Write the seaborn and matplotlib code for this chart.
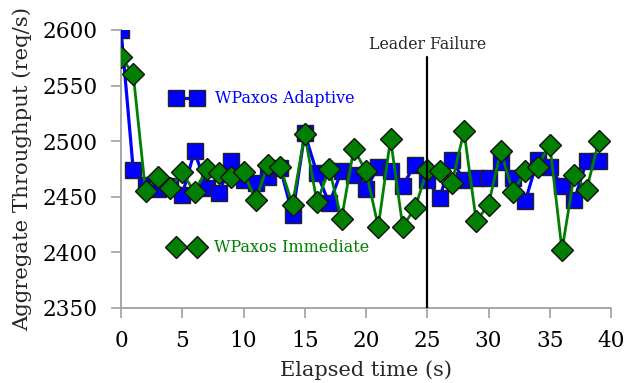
import matplotlib
matplotlib.use("Agg")
import matplotlib.pyplot as plt
import seaborn as sns
import pandas as pd
from matplotlib.lines import Line2D

time_s = list(range(40))
adaptive = [2600, 2474, 2461, 2457, 2460, 2452, 2491, 2458, 2453, 2482,
            2465, 2462, 2468, 2476, 2434, 2507, 2471, 2444, 2473, 2470,
            2457, 2477, 2473, 2460, 2479, 2465, 2449, 2483, 2465, 2467,
            2467, 2481, 2467, 2446, 2483, 2477, 2460, 2447, 2482, 2482]
immediate = [2576, 2560, 2455, 2468, 2458, 2472, 2454, 2475, 2471, 2468,
             2472, 2447, 2479, 2477, 2443, 2506, 2445, 2475, 2430, 2493,
             2473, 2423, 2502, 2423, 2440, 2474, 2473, 2462, 2509, 2428,
             2443, 2491, 2454, 2473, 2477, 2497, 2402, 2470, 2456, 2500]
series_names = ["WPaxos Adaptive", "WPaxos Immediate"]
failure_time = 25
failure_label = "Leader Failure"

sns.set_style("ticks")
plt.rcParams["font.family"] = ["DejaVu Serif"]

fig = plt.figure(figsize=(6.27, 3.83), dpi=100)
ax = fig.add_axes([0.193, 0.196, 0.7815, 0.7257])

df_a = pd.DataFrame({"t": time_s, "v": adaptive})
df_i = pd.DataFrame({"t": time_s, "v": immediate})

blue = "#0000ff"
green = "#007f00"

sns.lineplot(data=df_a, x="t", y="v", ax=ax, color=blue, lw=2.3, marker="s",
             markersize=11, markerfacecolor=blue, markeredgecolor="#222222",
             markeredgewidth=1.0, sort=False, errorbar=None, zorder=3)
sns.lineplot(data=df_i, x="t", y="v", ax=ax, color=green, lw=2.0, marker="D",
             markersize=11, markerfacecolor=green, markeredgecolor="#111111",
             markeredgewidth=1.0, sort=False, errorbar=None, zorder=4)

ax.set_xlim(0, 40)
ax.set_ylim(2350, 2600)
ax.set_xticks([0, 5, 10, 15, 20, 25, 30, 35, 40])
ax.set_yticks([2350, 2400, 2450, 2500, 2550, 2600])

ax.plot([failure_time, failure_time], [2350, 2576], color="black", lw=1.6, zorder=5)
ax.text(failure_time, 2579, failure_label, ha="center", va="bottom", fontsize=11.3)

for s in ["top", "right"]:
    ax.spines[s].set_visible(False)
for s in ["left", "bottom"]:
    ax.spines[s].set_color("#a0a0a0")
    ax.spines[s].set_linewidth(1.3)
ax.tick_params(axis="both", colors="#a0a0a0", length=7, width=1.2,
               labelsize=15.6, labelcolor="black", direction="out")
ax.tick_params(axis="y", pad=10)
ax.tick_params(axis="x", pad=9)
ax.set_xlabel("Elapsed time (s)", fontsize=15, labelpad=6)
ax.set_ylabel("Aggregate Throughput (req/s)", fontsize=15.3, labelpad=7)

h1 = Line2D([], [], color=blue, lw=2.3, marker="s", markersize=11,
            markerfacecolor=blue, markeredgecolor="#222222", markeredgewidth=1.0)
h2 = Line2D([], [], color=green, lw=2.0, marker="D", markersize=11,
            markerfacecolor=green, markeredgecolor="#111111", markeredgewidth=1.0)
leg1 = ax.legend([h1], [series_names[0]], loc="center left",
                 bbox_to_anchor=(0.09, 0.752), frameon=False, numpoints=2,
                 handlelength=1.9, handletextpad=0.85, fontsize=11.5,
                 borderaxespad=0)
for t in leg1.get_texts():
    t.set_color(blue)
ax.add_artist(leg1)
leg2 = ax.legend([h2], [series_names[1]], loc="center left",
                 bbox_to_anchor=(0.09, 0.216), frameon=False, numpoints=2,
                 handlelength=1.9, handletextpad=0.75, fontsize=11.5,
                 borderaxespad=0)
for t in leg2.get_texts():
    t.set_color(green)

fig.savefig("out.png", dpi=100)
